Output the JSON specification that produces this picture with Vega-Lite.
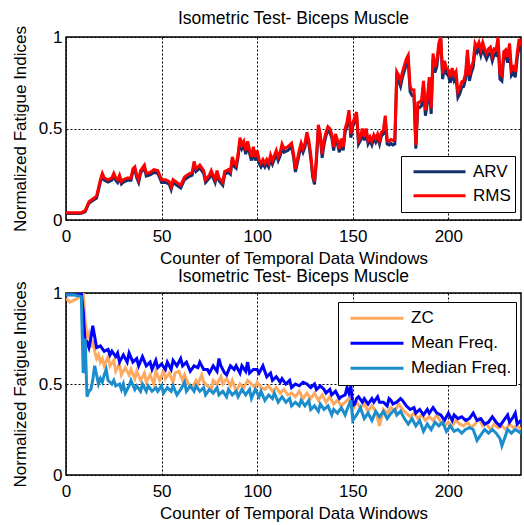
{
"$schema": "https://vega.github.io/schema/vega-lite/v6.json",
"padding": {"left": 10, "top": 9, "right": 2, "bottom": 0},
"config": {
  "font": "Liberation Sans",
  "view": {"stroke": "black", "strokeWidth": 1.5},
  "axis": {"domain": false, "ticks": false, "grid": true, "gridColor": "black", "gridDash": [2, 2], "gridOpacity": 1, "gridWidth": 1, "labelFontSize": 17, "labelColor": "black", "labelFont": "Liberation Sans", "titleFont": "Liberation Sans", "titleFontSize": 17, "titleFontWeight": "normal", "titleColor": "black", "labelFlush": false, "labelPadding": 4},
  "axisY": {"titlePadding": 9},
  "axisX": {"titlePadding": 5.3, "labelPadding": 8.7},
  "title": {"font": "Liberation Sans", "fontSize": 17.5, "fontWeight": "normal", "color": "black"},
  "legend": {"labelFont": "Liberation Sans", "labelFontSize": 17, "labelColor": "black", "symbolType": "stroke", "symbolStrokeWidth": 3, "strokeColor": "black", "fillColor": "white", "rowPadding": 0, "labelOffset": 6, "symbolOffset": 7, "padding": 4},
  "concat": {"spacing": 0}
},
"datasets": {
  "top": [
    {"x":0,"rms":0.04,"arv":0.035},{"x":2,"rms":0.04,"arv":0.035},{"x":4,"rms":0.04,"arv":0.035},{"x":6,"rms":0.04,"arv":0.035},{"x":8,"rms":0.04,"arv":0.037},{"x":10,"rms":0.05,"arv":0.045},{"x":12,"rms":0.10,"arv":0.092},{"x":14,"rms":0.115,"arv":0.107},{"x":16,"rms":0.13,"arv":0.12},{"x":18,"rms":0.22,"arv":0.208},{"x":19,"rms":0.255,"arv":0.24},{"x":20,"rms":0.23,"arv":0.218},{"x":22,"rms":0.22,"arv":0.207},{"x":24,"rms":0.23,"arv":0.218},{"x":25,"rms":0.255,"arv":0.24},{"x":26,"rms":0.23,"arv":0.218},{"x":27,"rms":0.22,"arv":0.205},{"x":28,"rms":0.245,"arv":0.232},{"x":29,"rms":0.21,"arv":0.197},{"x":30,"rms":0.22,"arv":0.207},{"x":32,"rms":0.23,"arv":0.217},{"x":34,"rms":0.23,"arv":0.217},{"x":35,"rms":0.28,"arv":0.265},{"x":36,"rms":0.29,"arv":0.276},{"x":37,"rms":0.245,"arv":0.23},{"x":38,"rms":0.22,"arv":0.205},{"x":39,"rms":0.27,"arv":0.256},{"x":41,"rms":0.30,"arv":0.285},{"x":42,"rms":0.255,"arv":0.24},{"x":44,"rms":0.26,"arv":0.246},{"x":46,"rms":0.275,"arv":0.26},{"x":48,"rms":0.27,"arv":0.256},{"x":50,"rms":0.22,"arv":0.205},{"x":52,"rms":0.22,"arv":0.205},{"x":54,"rms":0.21,"arv":0.196},{"x":55,"rms":0.18,"arv":0.166},{"x":56,"rms":0.22,"arv":0.205},{"x":58,"rms":0.205,"arv":0.19},{"x":60,"rms":0.19,"arv":0.175},{"x":62,"rms":0.235,"arv":0.22},{"x":64,"rms":0.25,"arv":0.235},{"x":66,"rms":0.26,"arv":0.245},{"x":67,"rms":0.32,"arv":0.305},{"x":68,"rms":0.28,"arv":0.265},{"x":70,"rms":0.30,"arv":0.285},{"x":72,"rms":0.27,"arv":0.255},{"x":73,"rms":0.22,"arv":0.205},{"x":75,"rms":0.245,"arv":0.23},{"x":76,"rms":0.27,"arv":0.255},{"x":78,"rms":0.22,"arv":0.205},{"x":79,"rms":0.27,"arv":0.255},{"x":80,"rms":0.23,"arv":0.215},{"x":82,"rms":0.205,"arv":0.19},{"x":83,"rms":0.265,"arv":0.25},{"x":85,"rms":0.275,"arv":0.26},{"x":86,"rms":0.265,"arv":0.25},{"x":87,"rms":0.345,"arv":0.328},{"x":88,"rms":0.31,"arv":0.293},{"x":89,"rms":0.30,"arv":0.283},{"x":90,"rms":0.36,"arv":0.343},{"x":91,"rms":0.45,"arv":0.43},{"x":92,"rms":0.41,"arv":0.39},{"x":93,"rms":0.43,"arv":0.41},{"x":94,"rms":0.38,"arv":0.36},{"x":95,"rms":0.43,"arv":0.41},{"x":96,"rms":0.385,"arv":0.365},{"x":97,"rms":0.345,"arv":0.325},{"x":98,"rms":0.40,"arv":0.38},{"x":99,"rms":0.345,"arv":0.325},{"x":100,"rms":0.38,"arv":0.36},{"x":101,"rms":0.33,"arv":0.31},{"x":102,"rms":0.31,"arv":0.29},{"x":103,"rms":0.33,"arv":0.31},{"x":104,"rms":0.31,"arv":0.29},{"x":105,"rms":0.33,"arv":0.31},{"x":106,"rms":0.31,"arv":0.29},{"x":107,"rms":0.355,"arv":0.335},{"x":108,"rms":0.325,"arv":0.305},{"x":110,"rms":0.38,"arv":0.36},{"x":111,"rms":0.345,"arv":0.325},{"x":112,"rms":0.37,"arv":0.35},{"x":113,"rms":0.415,"arv":0.395},{"x":114,"rms":0.39,"arv":0.37},{"x":116,"rms":0.40,"arv":0.38},{"x":118,"rms":0.42,"arv":0.40},{"x":119,"rms":0.365,"arv":0.345},{"x":120,"rms":0.28,"arv":0.262},{"x":121,"rms":0.33,"arv":0.31},{"x":122,"rms":0.38,"arv":0.36},{"x":123,"rms":0.42,"arv":0.40},{"x":124,"rms":0.39,"arv":0.37},{"x":125,"rms":0.42,"arv":0.40},{"x":126,"rms":0.48,"arv":0.46},{"x":127,"rms":0.435,"arv":0.415},{"x":128,"rms":0.36,"arv":0.34},{"x":129,"rms":0.255,"arv":0.237},{"x":130,"rms":0.21,"arv":0.195},{"x":131,"rms":0.345,"arv":0.325},{"x":132,"rms":0.52,"arv":0.50},{"x":133,"rms":0.47,"arv":0.45},{"x":134,"rms":0.36,"arv":0.34},{"x":135,"rms":0.435,"arv":0.415},{"x":136,"rms":0.48,"arv":0.46},{"x":137,"rms":0.51,"arv":0.49},{"x":138,"rms":0.50,"arv":0.48},{"x":139,"rms":0.47,"arv":0.45},{"x":140,"rms":0.40,"arv":0.38},{"x":141,"rms":0.47,"arv":0.45},{"x":142,"rms":0.435,"arv":0.415},{"x":143,"rms":0.39,"arv":0.37},{"x":144,"rms":0.445,"arv":0.425},{"x":145,"rms":0.40,"arv":0.38},{"x":146,"rms":0.50,"arv":0.48},{"x":147,"rms":0.535,"arv":0.515},{"x":148,"rms":0.60,"arv":0.578},{"x":149,"rms":0.47,"arv":0.45},{"x":150,"rms":0.53,"arv":0.51},{"x":151,"rms":0.56,"arv":0.54},{"x":152,"rms":0.59,"arv":0.57},{"x":153,"rms":0.435,"arv":0.415},{"x":154,"rms":0.455,"arv":0.435},{"x":155,"rms":0.50,"arv":0.48},{"x":156,"rms":0.455,"arv":0.435},{"x":157,"rms":0.50,"arv":0.48},{"x":158,"rms":0.435,"arv":0.415},{"x":159,"rms":0.455,"arv":0.435},{"x":160,"rms":0.43,"arv":0.41},{"x":161,"rms":0.465,"arv":0.445},{"x":162,"rms":0.445,"arv":0.425},{"x":163,"rms":0.47,"arv":0.45},{"x":164,"rms":0.435,"arv":0.415},{"x":165,"rms":0.48,"arv":0.46},{"x":166,"rms":0.49,"arv":0.47},{"x":167,"rms":0.57,"arv":0.55},{"x":168,"rms":0.435,"arv":0.415},{"x":169,"rms":0.43,"arv":0.41},{"x":170,"rms":0.44,"arv":0.418},{"x":171,"rms":0.435,"arv":0.41},{"x":172,"rms":0.44,"arv":0.415},{"x":173,"rms":0.81,"arv":0.78},{"x":174,"rms":0.79,"arv":0.76},{"x":175,"rms":0.76,"arv":0.73},{"x":176,"rms":0.81,"arv":0.78},{"x":177,"rms":0.845,"arv":0.815},{"x":178,"rms":0.88,"arv":0.85},{"x":179,"rms":0.90,"arv":0.87},{"x":180,"rms":0.73,"arv":0.70},{"x":181,"rms":0.71,"arv":0.68},{"x":182,"rms":0.71,"arv":0.68},{"x":183,"rms":0.41,"arv":0.39},{"x":184,"rms":0.64,"arv":0.61},{"x":185,"rms":0.645,"arv":0.615},{"x":186,"rms":0.655,"arv":0.625},{"x":187,"rms":0.76,"arv":0.73},{"x":188,"rms":0.60,"arv":0.57},{"x":189,"rms":0.665,"arv":0.635},{"x":190,"rms":0.78,"arv":0.75},{"x":191,"rms":0.61,"arv":0.58},{"x":192,"rms":0.91,"arv":0.88},{"x":193,"rms":0.835,"arv":0.805},{"x":194,"rms":0.87,"arv":0.84},{"x":195,"rms":0.965,"arv":0.935},{"x":196,"rms":1.0,"arv":1.0},{"x":197,"rms":0.80,"arv":0.77},{"x":198,"rms":0.87,"arv":0.84},{"x":199,"rms":0.83,"arv":0.80},{"x":200,"rms":0.82,"arv":0.79},{"x":201,"rms":0.78,"arv":0.75},{"x":202,"rms":0.83,"arv":0.80},{"x":203,"rms":0.79,"arv":0.76},{"x":204,"rms":0.81,"arv":0.78},{"x":205,"rms":0.70,"arv":0.67},{"x":206,"rms":0.72,"arv":0.69},{"x":207,"rms":0.755,"arv":0.725},{"x":208,"rms":0.76,"arv":0.73},{"x":209,"rms":0.80,"arv":0.77},{"x":210,"rms":0.93,"arv":0.90},{"x":211,"rms":0.79,"arv":0.76},{"x":212,"rms":0.835,"arv":0.805},{"x":213,"rms":0.865,"arv":0.835},{"x":214,"rms":0.965,"arv":0.935},{"x":215,"rms":0.945,"arv":0.915},{"x":216,"rms":0.97,"arv":0.94},{"x":217,"rms":0.93,"arv":0.90},{"x":218,"rms":0.97,"arv":0.94},{"x":219,"rms":0.935,"arv":0.905},{"x":220,"rms":0.91,"arv":0.88},{"x":221,"rms":0.935,"arv":0.905},{"x":222,"rms":0.945,"arv":0.915},{"x":223,"rms":0.90,"arv":0.87},{"x":224,"rms":0.935,"arv":0.905},{"x":225,"rms":0.93,"arv":0.90},{"x":226,"rms":1.0,"arv":0.97},{"x":227,"rms":0.80,"arv":0.77},{"x":228,"rms":0.79,"arv":0.76},{"x":229,"rms":0.92,"arv":0.89},{"x":230,"rms":0.93,"arv":0.90},{"x":231,"rms":0.89,"arv":0.86},{"x":232,"rms":0.965,"arv":0.935},{"x":233,"rms":0.82,"arv":0.79},{"x":234,"rms":0.835,"arv":0.805},{"x":235,"rms":0.81,"arv":0.78},{"x":236,"rms":0.91,"arv":0.88},{"x":237,"rms":0.99,"arv":0.96},{"x":238,"rms":0.95,"arv":0.92}
  ],
  "zc": [
    {"x":0,"y":0.97},{"x":2,"y":0.95},{"x":4,"y":0.96},{"x":6,"y":0.97},{"x":7,"y":0.99},{"x":8,"y":1.0},{"x":9,"y":1.0},{"x":10,"y":0.85},{"x":11,"y":0.76},{"x":12,"y":0.78},{"x":13,"y":0.70},{"x":14,"y":0.74},{"x":15,"y":0.68},{"x":16,"y":0.64},{"x":17,"y":0.66},{"x":18,"y":0.62},{"x":19,"y":0.64},{"x":20,"y":0.60},{"x":22,"y":0.65},{"x":23,"y":0.60},{"x":25,"y":0.63},{"x":26,"y":0.57},{"x":28,"y":0.61},{"x":29,"y":0.55},{"x":31,"y":0.59},{"x":33,"y":0.55},{"x":34,"y":0.58},{"x":36,"y":0.53},{"x":37,"y":0.57},{"x":39,"y":0.52},{"x":41,"y":0.56},{"x":42,"y":0.51},{"x":44,"y":0.55},{"x":46,"y":0.50},{"x":47,"y":0.57},{"x":49,"y":0.52},{"x":51,"y":0.57},{"x":52,"y":0.53},{"x":54,"y":0.56},{"x":56,"y":0.51},{"x":57,"y":0.56},{"x":59,"y":0.57},{"x":61,"y":0.52},{"x":62,"y":0.55},{"x":64,"y":0.50},{"x":66,"y":0.48},{"x":68,"y":0.52},{"x":69,"y":0.50},{"x":71,"y":0.55},{"x":72,"y":0.51},{"x":74,"y":0.49},{"x":76,"y":0.47},{"x":77,"y":0.52},{"x":79,"y":0.50},{"x":81,"y":0.54},{"x":82,"y":0.50},{"x":84,"y":0.53},{"x":86,"y":0.49},{"x":87,"y":0.52},{"x":89,"y":0.46},{"x":91,"y":0.50},{"x":93,"y":0.48},{"x":95,"y":0.52},{"x":97,"y":0.50},{"x":99,"y":0.48},{"x":100,"y":0.51},{"x":102,"y":0.48},{"x":104,"y":0.47},{"x":106,"y":0.49},{"x":108,"y":0.46},{"x":110,"y":0.48},{"x":112,"y":0.45},{"x":114,"y":0.47},{"x":116,"y":0.44},{"x":118,"y":0.45},{"x":120,"y":0.43},{"x":122,"y":0.46},{"x":124,"y":0.42},{"x":126,"y":0.45},{"x":128,"y":0.42},{"x":130,"y":0.45},{"x":132,"y":0.41},{"x":134,"y":0.44},{"x":136,"y":0.40},{"x":138,"y":0.43},{"x":140,"y":0.39},{"x":142,"y":0.41},{"x":144,"y":0.38},{"x":146,"y":0.40},{"x":148,"y":0.42},{"x":150,"y":0.36},{"x":152,"y":0.40},{"x":154,"y":0.37},{"x":156,"y":0.39},{"x":158,"y":0.35},{"x":160,"y":0.38},{"x":162,"y":0.35},{"x":164,"y":0.27},{"x":166,"y":0.36},{"x":168,"y":0.34},{"x":170,"y":0.37},{"x":172,"y":0.35},{"x":174,"y":0.39},{"x":176,"y":0.36},{"x":178,"y":0.34},{"x":180,"y":0.32},{"x":182,"y":0.34},{"x":184,"y":0.31},{"x":186,"y":0.33},{"x":188,"y":0.30},{"x":190,"y":0.32},{"x":192,"y":0.30},{"x":194,"y":0.33},{"x":196,"y":0.29},{"x":198,"y":0.27},{"x":200,"y":0.29},{"x":202,"y":0.27},{"x":204,"y":0.30},{"x":206,"y":0.28},{"x":208,"y":0.27},{"x":210,"y":0.29},{"x":212,"y":0.26},{"x":214,"y":0.28},{"x":216,"y":0.31},{"x":218,"y":0.27},{"x":220,"y":0.28},{"x":222,"y":0.25},{"x":224,"y":0.28},{"x":226,"y":0.26},{"x":228,"y":0.27},{"x":230,"y":0.25},{"x":232,"y":0.28},{"x":234,"y":0.26},{"x":236,"y":0.27},{"x":238,"y":0.25}
  ],
  "mean": [
    {"x":0,"y":0.99},{"x":3,"y":0.99},{"x":7,"y":0.99},{"x":8,"y":1.0},{"x":9,"y":0.9},{"x":10,"y":0.72},{"x":11,"y":0.73},{"x":12,"y":0.70},{"x":13,"y":0.75},{"x":14,"y":0.82},{"x":15,"y":0.76},{"x":16,"y":0.70},{"x":18,"y":0.71},{"x":20,"y":0.68},{"x":22,"y":0.69},{"x":23,"y":0.66},{"x":24,"y":0.68},{"x":26,"y":0.65},{"x":27,"y":0.67},{"x":28,"y":0.62},{"x":30,"y":0.66},{"x":32,"y":0.62},{"x":33,"y":0.67},{"x":35,"y":0.62},{"x":37,"y":0.64},{"x":38,"y":0.60},{"x":40,"y":0.65},{"x":42,"y":0.60},{"x":44,"y":0.62},{"x":45,"y":0.58},{"x":47,"y":0.63},{"x":48,"y":0.59},{"x":50,"y":0.61},{"x":52,"y":0.58},{"x":53,"y":0.62},{"x":55,"y":0.58},{"x":56,"y":0.63},{"x":58,"y":0.60},{"x":60,"y":0.64},{"x":61,"y":0.60},{"x":63,"y":0.62},{"x":65,"y":0.57},{"x":67,"y":0.60},{"x":69,"y":0.59},{"x":70,"y":0.62},{"x":72,"y":0.58},{"x":74,"y":0.58},{"x":75,"y":0.56},{"x":77,"y":0.60},{"x":79,"y":0.57},{"x":80,"y":0.64},{"x":81,"y":0.60},{"x":83,"y":0.56},{"x":84,"y":0.55},{"x":86,"y":0.60},{"x":88,"y":0.58},{"x":89,"y":0.60},{"x":91,"y":0.56},{"x":92,"y":0.60},{"x":94,"y":0.57},{"x":95,"y":0.62},{"x":96,"y":0.56},{"x":98,"y":0.58},{"x":100,"y":0.58},{"x":101,"y":0.56},{"x":103,"y":0.60},{"x":105,"y":0.54},{"x":107,"y":0.56},{"x":108,"y":0.52},{"x":110,"y":0.54},{"x":112,"y":0.51},{"x":113,"y":0.53},{"x":115,"y":0.50},{"x":117,"y":0.52},{"x":118,"y":0.48},{"x":120,"y":0.50},{"x":122,"y":0.49},{"x":124,"y":0.51},{"x":126,"y":0.50},{"x":128,"y":0.48},{"x":130,"y":0.50},{"x":131,"y":0.47},{"x":133,"y":0.49},{"x":135,"y":0.47},{"x":136,"y":0.45},{"x":138,"y":0.47},{"x":139,"y":0.44},{"x":141,"y":0.46},{"x":143,"y":0.42},{"x":144,"y":0.43},{"x":146,"y":0.44},{"x":147,"y":0.48},{"x":148,"y":0.45},{"x":149,"y":0.49},{"x":150,"y":0.38},{"x":151,"y":0.39},{"x":152,"y":0.42},{"x":153,"y":0.43},{"x":155,"y":0.40},{"x":156,"y":0.42},{"x":158,"y":0.39},{"x":160,"y":0.42},{"x":161,"y":0.40},{"x":163,"y":0.43},{"x":164,"y":0.40},{"x":166,"y":0.40},{"x":168,"y":0.38},{"x":169,"y":0.42},{"x":170,"y":0.41},{"x":171,"y":0.39},{"x":173,"y":0.40},{"x":175,"y":0.42},{"x":176,"y":0.41},{"x":178,"y":0.38},{"x":180,"y":0.36},{"x":182,"y":0.37},{"x":183,"y":0.34},{"x":185,"y":0.36},{"x":187,"y":0.33},{"x":189,"y":0.36},{"x":190,"y":0.34},{"x":192,"y":0.37},{"x":194,"y":0.34},{"x":196,"y":0.33},{"x":198,"y":0.30},{"x":200,"y":0.34},{"x":202,"y":0.30},{"x":203,"y":0.33},{"x":205,"y":0.31},{"x":207,"y":0.32},{"x":209,"y":0.30},{"x":211,"y":0.31},{"x":213,"y":0.34},{"x":215,"y":0.30},{"x":217,"y":0.31},{"x":219,"y":0.28},{"x":221,"y":0.29},{"x":223,"y":0.32},{"x":225,"y":0.29},{"x":227,"y":0.27},{"x":229,"y":0.30},{"x":231,"y":0.33},{"x":232,"y":0.29},{"x":234,"y":0.32},{"x":235,"y":0.34},{"x":236,"y":0.28},{"x":238,"y":0.30}
  ],
  "median": [
    {"x":0,"y":0.99},{"x":4,"y":0.99},{"x":8,"y":0.98},{"x":9,"y":0.56},{"x":10,"y":0.75},{"x":11,"y":0.43},{"x":12,"y":0.46},{"x":13,"y":0.47},{"x":14,"y":0.52},{"x":15,"y":0.60},{"x":16,"y":0.55},{"x":17,"y":0.50},{"x":18,"y":0.53},{"x":19,"y":0.51},{"x":20,"y":0.55},{"x":21,"y":0.58},{"x":22,"y":0.52},{"x":24,"y":0.50},{"x":25,"y":0.52},{"x":26,"y":0.49},{"x":28,"y":0.50},{"x":29,"y":0.47},{"x":30,"y":0.50},{"x":31,"y":0.45},{"x":33,"y":0.49},{"x":34,"y":0.52},{"x":36,"y":0.47},{"x":37,"y":0.49},{"x":39,"y":0.46},{"x":40,"y":0.50},{"x":42,"y":0.46},{"x":43,"y":0.49},{"x":45,"y":0.46},{"x":47,"y":0.48},{"x":48,"y":0.46},{"x":50,"y":0.49},{"x":51,"y":0.45},{"x":53,"y":0.48},{"x":55,"y":0.46},{"x":56,"y":0.49},{"x":58,"y":0.44},{"x":60,"y":0.47},{"x":62,"y":0.51},{"x":63,"y":0.46},{"x":65,"y":0.49},{"x":67,"y":0.46},{"x":68,"y":0.49},{"x":70,"y":0.46},{"x":72,"y":0.48},{"x":73,"y":0.44},{"x":75,"y":0.47},{"x":77,"y":0.45},{"x":79,"y":0.48},{"x":80,"y":0.44},{"x":82,"y":0.46},{"x":84,"y":0.43},{"x":85,"y":0.47},{"x":87,"y":0.44},{"x":89,"y":0.46},{"x":90,"y":0.43},{"x":92,"y":0.47},{"x":94,"y":0.44},{"x":96,"y":0.47},{"x":97,"y":0.42},{"x":99,"y":0.47},{"x":101,"y":0.43},{"x":102,"y":0.46},{"x":104,"y":0.41},{"x":106,"y":0.44},{"x":108,"y":0.42},{"x":109,"y":0.45},{"x":111,"y":0.40},{"x":113,"y":0.43},{"x":115,"y":0.40},{"x":117,"y":0.42},{"x":118,"y":0.38},{"x":120,"y":0.40},{"x":122,"y":0.38},{"x":123,"y":0.41},{"x":125,"y":0.38},{"x":127,"y":0.41},{"x":128,"y":0.36},{"x":130,"y":0.38},{"x":132,"y":0.35},{"x":133,"y":0.39},{"x":135,"y":0.36},{"x":137,"y":0.38},{"x":139,"y":0.33},{"x":140,"y":0.36},{"x":142,"y":0.34},{"x":144,"y":0.37},{"x":146,"y":0.33},{"x":147,"y":0.36},{"x":149,"y":0.41},{"x":150,"y":0.30},{"x":152,"y":0.33},{"x":154,"y":0.37},{"x":156,"y":0.31},{"x":158,"y":0.34},{"x":160,"y":0.30},{"x":162,"y":0.35},{"x":164,"y":0.32},{"x":166,"y":0.35},{"x":168,"y":0.31},{"x":170,"y":0.34},{"x":172,"y":0.36},{"x":173,"y":0.33},{"x":175,"y":0.35},{"x":177,"y":0.31},{"x":179,"y":0.28},{"x":181,"y":0.31},{"x":183,"y":0.27},{"x":185,"y":0.30},{"x":187,"y":0.24},{"x":189,"y":0.28},{"x":191,"y":0.25},{"x":193,"y":0.29},{"x":195,"y":0.27},{"x":197,"y":0.29},{"x":199,"y":0.24},{"x":201,"y":0.27},{"x":203,"y":0.24},{"x":205,"y":0.25},{"x":207,"y":0.23},{"x":209,"y":0.25},{"x":211,"y":0.26},{"x":213,"y":0.25},{"x":215,"y":0.19},{"x":217,"y":0.22},{"x":219,"y":0.25},{"x":221,"y":0.23},{"x":223,"y":0.25},{"x":225,"y":0.23},{"x":227,"y":0.20},{"x":228,"y":0.16},{"x":229,"y":0.19},{"x":231,"y":0.25},{"x":233,"y":0.23},{"x":235,"y":0.25},{"x":238,"y":0.23}
  ]
},
"resolve": {"scale": {"color": "independent"}, "legend": {"color": "independent"}},
"vconcat": [
  {
    "title": {"text": "Isometric Test- Biceps Muscle", "offset": -2.3},
    "width": 455, "height": 183,
    "data": {"name": "top"},
    "encoding": {
      "x": {"field": "x", "type": "quantitative", "scale": {"domain": [0, 238], "nice": false}, "axis": {"values": [0, 50, 100, 150, 200], "title": "Counter of Temporal Data Windows"}}
    },
    "layer": [
      {"mark": {"type": "line", "strokeWidth": 3, "clip": true},
       "encoding": {"y": {"field": "arv", "type": "quantitative", "scale": {"domain": [0, 1], "nice": false}, "axis": {"values": [0, 0.5, 1], "format": ".1~f", "title": "Normalized Fatigue Indices"}},
         "color": {"datum": "ARV", "type": "nominal", "scale": {"domain": ["ARV", "RMS"], "range": ["#142f6e", "#ff0000"]},
           "legend": {"title": null, "orient": "none", "legendX": 335, "legendY": 119, "symbolSize": 2704, "clipHeight": 23.3}}}},
      {"mark": {"type": "line", "strokeWidth": 3, "clip": true},
       "encoding": {"y": {"field": "rms", "type": "quantitative"}, "color": {"datum": "RMS", "type": "nominal"}}}
    ]
  },
  {
    "title": {"text": "Isometric Test- Biceps Muscle", "offset": -4.5},
    "width": 455, "height": 182,
    "encoding": {
      "x": {"field": "x", "type": "quantitative", "scale": {"domain": [0, 238], "nice": false}, "axis": {"values": [0, 50, 100, 150, 200], "title": "Counter of Temporal Data Windows"}},
      "y": {"field": "y", "type": "quantitative", "scale": {"domain": [0, 1], "nice": false}, "axis": {"values": [0, 0.5, 1], "format": ".1~f", "title": "Normalized Fatigue Indices"}}
    },
    "layer": [
      {"data": {"name": "zc"}, "mark": {"type": "line", "strokeWidth": 3, "clip": true},
       "encoding": {"color": {"datum": "ZC", "type": "nominal", "scale": {"domain": ["ZC", "Mean Freq.", "Median Freq."], "range": ["#fdaa60", "#0000ff", "#1b8dcd"]},
         "legend": {"title": null, "orient": "none", "legendX": 272, "legendY": 9, "symbolSize": 2809, "clipHeight": 24.5}}}},
      {"data": {"name": "mean"}, "mark": {"type": "line", "strokeWidth": 3, "clip": true},
       "encoding": {"color": {"datum": "Mean Freq.", "type": "nominal"}}},
      {"data": {"name": "median"}, "mark": {"type": "line", "strokeWidth": 3, "clip": true},
       "encoding": {"color": {"datum": "Median Freq.", "type": "nominal"}}}
    ]
  }
]
}
